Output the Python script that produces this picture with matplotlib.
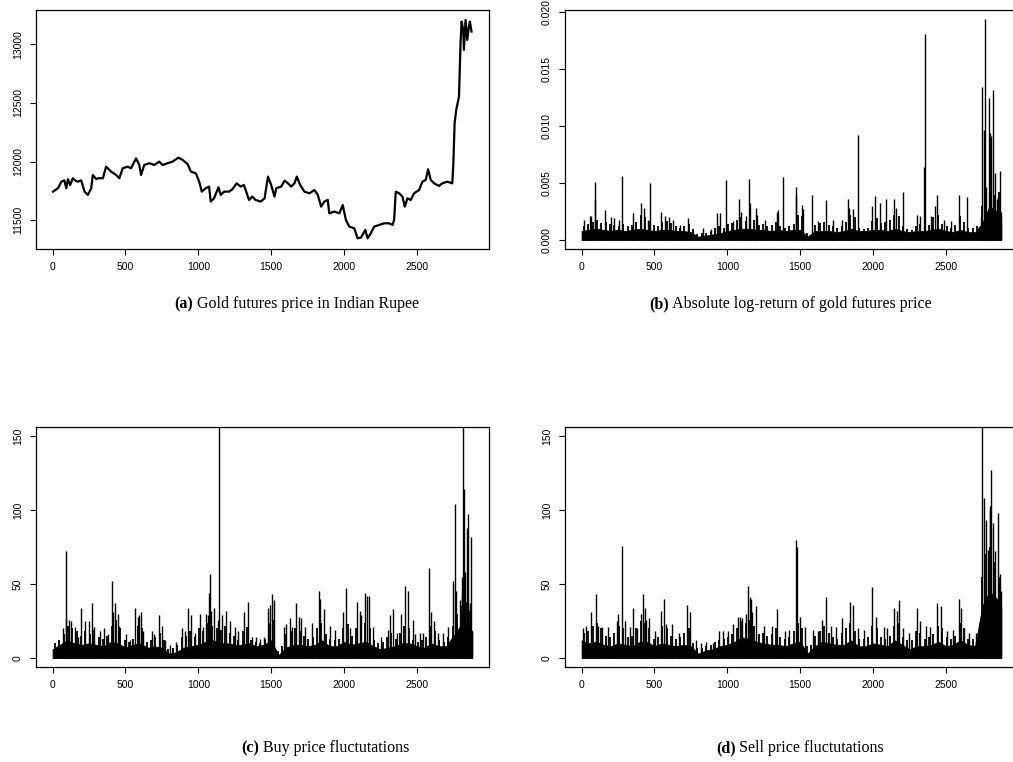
import numpy as np
import matplotlib
matplotlib.use("Agg")
import matplotlib.pyplot as plt

# (a) gold futures price, read at irregular time steps
price_t = [3, 37, 60, 80, 94, 105, 120, 139, 160, 173,
           196, 219, 242, 265, 276, 300, 310, 345, 367, 401,
           436, 458, 481, 515, 538, 573, 595, 607, 629, 664,
           698, 732, 755, 789, 823, 864, 892, 926, 949, 983,
           1006, 1024, 1051, 1074, 1085, 1108, 1138, 1154, 1177, 1211,
           1234, 1263, 1291, 1313, 1348, 1370, 1393, 1428, 1455, 1478,
           1500, 1523, 1535, 1569, 1592, 1615, 1637, 1660, 1676, 1699,
           1728, 1763, 1797, 1820, 1843, 1865, 1888, 1899, 1934, 1968,
           1991, 2013, 2036, 2070, 2093, 2116, 2146, 2162, 2184, 2207,
           2241, 2276, 2310, 2333, 2344, 2355, 2378, 2401, 2417, 2435,
           2458, 2481, 2515, 2538, 2561, 2577, 2595, 2618, 2652, 2675,
           2709, 2743, 2750, 2759, 2770, 2789, 2800, 2807, 2818, 2823,
           2834, 2846, 2857, 2864, 2875]
price_v = [11744, 11773, 11829, 11840, 11773, 11850, 11800, 11858, 11835, 11829,
           11840, 11744, 11716, 11773, 11886, 11850, 11858, 11858, 11957, 11915,
           11886, 11858, 11943, 11957, 11943, 12028, 11971, 11886, 11971, 11986,
           11971, 12000, 11971, 11986, 12000, 12034, 12014, 11980, 11915, 11900,
           11829, 11744, 11773, 11787, 11659, 11687, 11781, 11716, 11744, 11744,
           11764, 11815, 11787, 11801, 11673, 11702, 11673, 11659, 11687, 11872,
           11801, 11702, 11773, 11787, 11838, 11815, 11787, 11815, 11872, 11801,
           11744, 11730, 11758, 11716, 11616, 11659, 11673, 11559, 11574, 11559,
           11630, 11503, 11446, 11432, 11346, 11352, 11417, 11346, 11389, 11446,
           11460, 11474, 11474, 11460, 11503, 11744, 11730, 11702, 11616, 11687,
           11673, 11730, 11758, 11829, 11844, 11935, 11844, 11815, 11792, 11815,
           11829, 11815, 11971, 12327, 12440, 12554, 13023, 13193, 13122, 12952,
           13208, 13037, 13151, 13193, 13108]

# dense floor of the spike panels, sampled every 50 steps
band_t = [0, 50, 100, 150, 200, 250, 300, 350, 400, 450,
          500, 550, 600, 650, 700, 750, 800, 850, 900, 950,
          1000, 1050, 1100, 1150, 1200, 1250, 1300, 1350, 1400, 1450,
          1500, 1550, 1600, 1650, 1700, 1750, 1800, 1850, 1900, 1950,
          2000, 2050, 2100, 2150, 2200, 2250, 2300, 2350, 2400, 2450,
          2500, 2550, 2600, 2650, 2700, 2750, 2800, 2850, 2880]
# typical spike height in each 30-step window
mid_t = np.arange(15, 2880, 30)

# (b) absolute log-return
ret_band = [0.0008, 0.0009, 0.0010, 0.0009, 0.0008, 0.0009, 0.0008, 0.0009, 0.0010, 0.0009,
            0.0008, 0.0009, 0.0009, 0.0008, 0.0008, 0.0007, 0.0003, 0.0004, 0.0005, 0.0006,
            0.0008, 0.0009, 0.0010, 0.0010, 0.0009, 0.0009, 0.0008, 0.0009, 0.0008, 0.0009,
            0.0009, 0.0003, 0.0008, 0.0008, 0.0008, 0.0007, 0.0008, 0.0010, 0.0008, 0.0008,
            0.0009, 0.0009, 0.0008, 0.0010, 0.0008, 0.0007, 0.0008, 0.0008, 0.0009, 0.0010,
            0.0008, 0.0007, 0.0009, 0.0007, 0.0007, 0.0015, 0.0030, 0.0025, 0.0020]
ret_mid = [0.0012, 0.0014, 0.0016, 0.0018, 0.0015, 0.0016, 0.0014, 0.0013, 0.0012, 0.0014,
           0.0012, 0.0013, 0.0016, 0.0022, 0.0020, 0.0017, 0.0013, 0.0012, 0.0016, 0.0017,
           0.0015, 0.0012, 0.0011, 0.0012, 0.0014, 0.0010, 0.0005, 0.0006, 0.0006, 0.0008,
           0.0011, 0.0012, 0.0011, 0.0014, 0.0015, 0.0018, 0.0020, 0.0017, 0.0019, 0.0018,
           0.0013, 0.0014, 0.0012, 0.0013, 0.0016, 0.0012, 0.0011, 0.0012, 0.0014, 0.0022,
           0.0021, 0.0006, 0.0004, 0.0013, 0.0015, 0.0016, 0.0013, 0.0012, 0.0011, 0.0012,
           0.0016, 0.0022, 0.0020, 0.0011, 0.0010, 0.0011, 0.0017, 0.0019, 0.0015, 0.0016,
           0.0018, 0.0022, 0.0021, 0.0012, 0.0010, 0.0009, 0.0012, 0.0014, 0.0012, 0.0013,
           0.0020, 0.0022, 0.0014, 0.0012, 0.0011, 0.0013, 0.0021, 0.0016, 0.0011, 0.0011,
           0.0012, 0.0030, 0.0045, 0.0050, 0.0040, 0.0042]
ret_t = [16, 57, 62, 91, 93, 160, 199, 222, 258, 274,
         354, 411, 427, 457, 472, 548, 571, 600, 628, 674,
         731, 833, 891, 929, 950, 988, 1039, 1078, 1091, 1130,
         1148, 1157, 1194, 1205, 1256, 1343, 1347, 1381, 1472, 1474,
         1511, 1518, 1580, 1621, 1678, 1724, 1785, 1831, 1833, 1860,
         1895, 1991, 2013, 2050, 2089, 2146, 2158, 2208, 2299, 2324,
         2347, 2356, 2397, 2425, 2438, 2484, 2534, 2587, 2648, 2740,
         2751, 2760, 2767, 2774, 2797, 2803, 2813, 2824, 2838, 2848,
         2858, 2872, 2879]
ret_v = [0.0018, 0.0021, 0.0021, 0.0051, 0.0036, 0.0026, 0.0020, 0.0019, 0.0018, 0.0056,
         0.0024, 0.0033, 0.0028, 0.0018, 0.0050, 0.0025, 0.0021, 0.0020, 0.0018, 0.0013,
         0.0019, 0.0011, 0.0010, 0.0024, 0.0024, 0.0053, 0.0017, 0.0036, 0.0025, 0.0021,
         0.0054, 0.0033, 0.0028, 0.0022, 0.0018, 0.0025, 0.0026, 0.0055, 0.0047, 0.0039,
         0.0031, 0.0027, 0.0040, 0.0017, 0.0035, 0.0018, 0.0018, 0.0036, 0.0028, 0.0027,
         0.0092, 0.0030, 0.0039, 0.0033, 0.0036, 0.0036, 0.0028, 0.0042, 0.0022, 0.0021,
         0.0064, 0.0181, 0.0021, 0.0030, 0.0040, 0.0018, 0.0017, 0.0040, 0.0038, 0.0021,
         0.0134, 0.0097, 0.0194, 0.0047, 0.0125, 0.0094, 0.0091, 0.0132, 0.0059, 0.0036,
         0.0039, 0.0061, 0.0025]

# (c) buy price fluctuations
buy_band = [6, 9, 12, 10, 9, 10, 9, 8, 11, 10,
            7, 9, 10, 7, 8, 7, 3, 4, 7, 8,
            9, 11, 12, 10, 10, 9, 9, 10, 8, 9,
            12, 2, 7, 9, 9, 8, 9, 12, 8, 8,
            11, 9, 10, 11, 8, 6, 7, 8, 10, 10,
            8, 7, 10, 8, 8, 15, 22, 22, 18]
buy_mid = [10, 12, 16, 22, 20, 18, 15, 18, 16, 19,
           14, 13, 15, 22, 26, 20, 12, 11, 13, 22,
           20, 11, 12, 14, 17, 12, 6, 7, 9, 14,
           15, 18, 14, 20, 18, 24, 22, 20, 19, 22,
           17, 15, 12, 18, 21, 12, 11, 10, 13, 24,
           26, 5, 8, 16, 18, 20, 18, 15, 13, 14,
           20, 24, 16, 13, 12, 13, 20, 23, 15, 20,
           18, 24, 20, 12, 10, 11, 14, 17, 13, 17,
           22, 20, 12, 11, 12, 14, 22, 18, 12, 11,
           14, 22, 30, 35, 38, 32]
buy_t = [71, 91, 94, 110, 128, 151, 173, 196, 219, 249,
         269, 287, 322, 356, 379, 406, 417, 429, 447, 459,
         504, 531, 566, 584, 595, 604, 618, 682, 698, 732,
         748, 773, 807, 846, 885, 908, 931, 949, 976, 1010,
         1029, 1056, 1067, 1074, 1079, 1090, 1106, 1138, 1143, 1165,
         1193, 1218, 1250, 1275, 1314, 1341, 1370, 1393, 1421, 1450,
         1478, 1494, 1508, 1519, 1587, 1603, 1626, 1644, 1667, 1690,
         1708, 1735, 1781, 1827, 1838, 1866, 1902, 1941, 1991, 2014,
         2043, 2089, 2111, 2116, 2144, 2158, 2169, 2196, 2253, 2305,
         2315, 2333, 2362, 2390, 2420, 2438, 2470, 2488, 2522, 2545,
         2584, 2600, 2620, 2647, 2681, 2716, 2750, 2762, 2771, 2795,
         2808, 2811, 2819, 2824, 2831, 2847, 2853, 2862, 2866, 2872,
         2881]
buy_v = [20, 72, 27, 26, 25, 21, 14, 34, 25, 25,
         37, 21, 18, 20, 16, 52, 31, 37, 30, 22,
         16, 12, 34, 28, 29, 31, 18, 18, 16, 29,
         22, 12, 9, 11, 20, 18, 34, 29, 17, 30,
         21, 30, 29, 44, 57, 32, 34, 26, 170, 29,
         32, 25, 21, 18, 31, 38, 14, 14, 13, 14,
         34, 36, 43, 39, 21, 23, 27, 21, 37, 28,
         27, 21, 24, 45, 40, 33, 22, 19, 31, 47,
         20, 38, 32, 29, 44, 42, 42, 21, 14, 19,
         29, 33, 17, 30, 49, 45, 26, 16, 17, 17,
         61, 31, 25, 17, 17, 21, 52, 104, 45, 39,
         55, 44, 165, 114, 58, 88, 97, 34, 37, 82,
         18]

# (d) sell price fluctuations
sell_band = [12, 10, 11, 9, 8, 10, 9, 8, 11, 11,
             8, 10, 9, 8, 9, 8, 3, 5, 6, 8,
             9, 11, 14, 13, 11, 10, 9, 9, 8, 10,
             11, 3, 8, 11, 10, 9, 9, 12, 8, 8,
             10, 9, 8, 12, 9, 6, 8, 8, 9, 11,
             8, 9, 12, 9, 8, 35, 45, 40, 35]
sell_mid = [17, 18, 22, 24, 20, 15, 14, 17, 22, 20,
            14, 15, 20, 25, 24, 20, 13, 14, 22, 20,
            15, 13, 14, 17, 20, 10, 7, 7, 8, 9,
            11, 12, 13, 14, 16, 20, 25, 24, 26, 22,
            16, 17, 15, 16, 20, 14, 13, 14, 18, 24,
            20, 8, 9, 15, 18, 22, 17, 14, 13, 17,
            20, 24, 18, 13, 13, 14, 22, 20, 14, 13,
            15, 22, 24, 14, 12, 12, 18, 17, 13, 14,
            16, 22, 20, 14, 13, 15, 24, 20, 13, 13,
            14, 55, 70, 75, 65, 55]
sell_t = [12, 28, 62, 97, 114, 137, 183, 240, 251, 274,
          297, 331, 354, 377, 406, 418, 434, 445, 463, 502,
          548, 564, 582, 621, 669, 726, 747, 788, 822, 856,
          902, 941, 970, 1005, 1039, 1073, 1084, 1100, 1130, 1144,
          1153, 1160, 1169, 1194, 1251, 1306, 1340, 1393, 1420, 1468,
          1477, 1500, 1530, 1587, 1621, 1648, 1678, 1712, 1747, 1788,
          1842, 1861, 1895, 1936, 1993, 2020, 2073, 2096, 2146, 2164,
          2180, 2203, 2249, 2299, 2324, 2363, 2390, 2438, 2466, 2511,
          2546, 2591, 2603, 2626, 2660, 2706, 2735, 2740, 2751, 2760,
          2778, 2789, 2801, 2806, 2810, 2826, 2838, 2856, 2865, 2872,
          2879]
sell_v = [20, 22, 31, 43, 22, 21, 21, 25, 30, 76,
          25, 21, 34, 20, 30, 43, 34, 26, 27, 18,
          32, 40, 23, 23, 17, 36, 31, 12, 10, 11,
          10, 18, 18, 18, 23, 28, 28, 27, 30, 49,
          41, 40, 31, 35, 22, 22, 33, 18, 19, 80,
          75, 28, 21, 19, 18, 26, 41, 22, 21, 27,
          38, 36, 20, 19, 48, 28, 21, 20, 34, 32,
          39, 20, 17, 34, 25, 22, 21, 37, 35, 18,
          19, 40, 34, 20, 17, 17, 23, 24, 165, 108,
          93, 73, 100, 103, 127, 91, 72, 98, 50, 57,
          45]

captions = [("(a)", "Gold futures price in Indian Rupee"),
            ("(b)", "Absolute log-return of gold futures price"),
            ("(c)", "Buy price fluctutations"),
            ("(d)", "Sell price fluctutations")]

XLIM = (-114, 2995)
TICK_FONT = "Liberation Sans"
CAP_FONT = "Liberation Serif"

fig = plt.figure(figsize=(10.13, 7.62), dpi=100)
W, H = 1013.0, 762.0


def make_axes(left, top, right, bottom):
    return fig.add_axes([left / W, 1 - bottom / H, (right - left) / W, (bottom - top) / H])


def style(ax, yticks, ylabels):
    ax.set_xlim(*XLIM)
    ax.set_xticks([0, 500, 1000, 1500, 2000, 2500])
    ax.set_yticks(yticks)
    ax.set_yticklabels(ylabels, rotation=90, va="center")
    ax.tick_params(direction="out", length=4.5, width=0.8, labelsize=7.5, pad=5)
    for lab in ax.get_xticklabels() + ax.get_yticklabels():
        lab.set_fontfamily(TICK_FONT)
    for sp in ax.spines.values():
        sp.set_linewidth(0.9)


def spikes(ax, band, mid, t, v, ylim):
    # solid floor, then the window-typical spikes, then the individual tall ones
    ax.fill_between(band_t, 0, band, color="black", linewidth=0.6)
    ax.vlines(mid_t, 0, mid, color="black", linewidth=1.3)
    ax.vlines(t, 0, v, color="black", linewidth=1.0)
    ax.set_ylim(*ylim)


ax_a = make_axes(36, 10, 489, 249)
ax_a.plot(price_t, price_v, color="black", linewidth=1.6)
ax_a.set_ylim(11255, 13292)
style(ax_a, [11500, 12000, 12500, 13000], ["11500", "12000", "12500", "13000"])

ax_b = make_axes(565, 10, 1018, 249)
spikes(ax_b, ret_band, ret_mid, ret_t, ret_v, (-0.00078, 0.0202))
style(ax_b, [0, 0.005, 0.010, 0.015, 0.020],
      ["0.000", "0.005", "0.010", "0.015", "0.020"])

ax_c = make_axes(36, 427, 489, 667)
spikes(ax_c, buy_band, buy_mid, buy_t, buy_v, (-6, 156))
style(ax_c, [0, 50, 100, 150], ["0", "50", "100", "150"])

ax_d = make_axes(565, 427, 1018, 667)
spikes(ax_d, sell_band, sell_mid, sell_t, sell_v, (-6, 156))
style(ax_d, [0, 50, 100, 150], ["0", "50", "100", "150"])


def caption(xc, y, tag, body, size=11.5):
    r = fig.canvas.get_renderer()
    t1 = fig.text(0, 1 - y / H, tag, fontsize=size, fontweight="bold",
                  family=CAP_FONT, va="baseline")
    t2 = fig.text(0, 1 - y / H, " " + body, fontsize=size,
                  family=CAP_FONT, va="baseline")
    w1 = t1.get_window_extent(r).width
    w2 = t2.get_window_extent(r).width
    x0 = xc - (w1 + w2) / 2
    t1.set_x(x0 / W)
    t2.set_x((x0 + w1) / W)


caption(297, 308, *captions[0])
caption(790, 308, *captions[1])
caption(325, 752, *captions[2])
caption(800, 752, *captions[3])

fig.savefig("out.png", dpi=100)
